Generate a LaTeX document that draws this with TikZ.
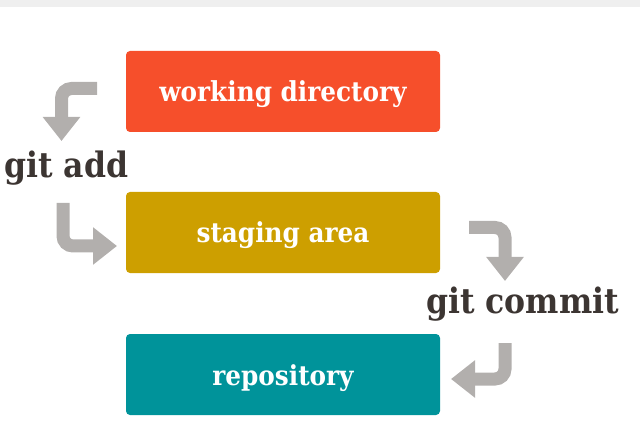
\documentclass[tikz,border=0pt]{standalone}
\usepackage{fontspec}
\setmainfont{DejaVu Serif Condensed}
\usetikzlibrary{arrows.meta}
\definecolor{wdcol}{HTML}{F64F2B}
\definecolor{sacol}{HTML}{CD9F00}
\definecolor{rpcol}{HTML}{00939A}
\definecolor{arrcol}{HTML}{B2AFAD}
\definecolor{txtcol}{HTML}{3C3532}
\definecolor{bandcol}{HTML}{EFEFEF}
\tikzset{
  stage/.style={fill=#1, draw=none, rounded corners=4pt, minimum width=314pt, minimum height=81pt,
    text=white, font=\bfseries\fontsize{27.5}{32}\selectfont, inner sep=0pt,
    text height=21pt, text depth=0pt},
  cmd/.style={text=txtcol, font=\bfseries\fontsize{35}{42}\selectfont, inner sep=0pt, anchor=base west},
  flow/.style={draw=arrcol, line width=13pt, rounded corners=10pt,
    -{Triangle[width=36pt,length=24pt]}}
}
\begin{document}
\begin{tikzpicture}[x=1pt,y=-1pt]
\useasboundingbox (0,0) rectangle (640,422);
\fill[bandcol] (0,0) rectangle (640,7);
\node[stage=wdcol] (wd) at (283,91.5) {working directory};
\node[stage=sacol] (sa) at (283,232.5) {staging area};
\node[stage=rpcol] (rp) at (283,374.5) {repository};
\node[cmd] (add) at (4,178) {git add};
\node[cmd] (commit) at (426,313) {git commit};
\coordinate (a1s) at (97,88.5);
\coordinate (a1e) at (61.5,141);
\coordinate (a2s) at (63,203);
\coordinate (a2e) at (117,246);
\coordinate (a3s) at (469,227.5);
\coordinate (a3e) at (505,281);
\coordinate (a4s) at (505,343);
\coordinate (a4e) at (451,379);
\draw[flow] (a1s) -| (a1e);
\draw[flow] (a2s) |- (a2e);
\draw[flow] (a3s) -| (a3e);
\draw[flow] (a4s) |- (a4e);
\end{tikzpicture}
\end{document}
